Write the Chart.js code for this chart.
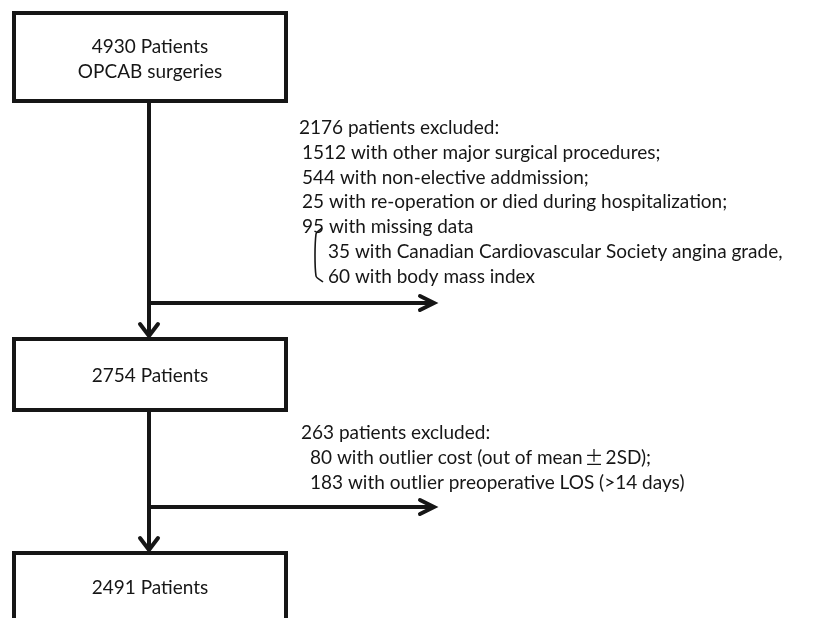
<!DOCTYPE html>
<html>
<head>
<meta charset="utf-8">
<script src="https://cdn.jsdelivr.net/npm/chart.js@4/dist/chart.umd.min.js"></script>
<style>
  html, body { margin: 0; padding: 0; background: #ffffff; }
  #wrap { width: 832px; height: 618px; }
</style>
</head>
<body>
<div id="wrap"><canvas id="c" width="832" height="618"></canvas></div>
<script>
// ---- Data (flowchart content) ----
const stageCounts = [4930, 2754, 2491];
const stageSubtitles = ["OPCAB surgeries", "", ""];
const excluded1Total = 2176;
const excluded1Reasons = [
  "1512 with other major surgical procedures;",
  "544 with non-elective addmission;",
  "25 with re-operation or died during hospitalization;",
  "95 with missing data"
];
const missingDetail = [
  "35 with Canadian Cardiovascular Society angina grade,",
  "60 with body mass index"
];
const excluded2Total = 263;
const excluded2Reasons = [
  ["80 with outlier cost (out of mean", "\u00B1", "2SD);"],
  ["183 with outlier preoperative LOS (>14 days)"]
];

// ---- Layout (positions in canvas units) ----
const boxLeft = 14, boxRight = 286, spineX = 149;
const boxTops = [13, 339, 553];
const boxBottoms = [101, 410, 640];
const branchY = [303, 507];
const branchEnd = 434;
const ink = '#161616';
const LW = 4;

function rect(l, t, r, b) {
  return [{x:l,y:t},{x:r,y:t},{x:r,y:b},{x:l,y:b},{x:l,y:t}];
}
function seg(a, b) { return [a, b]; }

const datasets = [];
function addLine(pts, w, cap) {
  datasets.push({
    type: 'scatter', data: pts, showLine: true, borderColor: ink,
    borderWidth: w, pointRadius: 0, tension: 0, fill: false,
    borderJoinStyle: 'miter', borderCapStyle: cap || 'square', clip: false
  });
}
// boxes
for (let i = 0; i < stageCounts.length; i++) {
  addLine(rect(boxLeft, boxTops[i], boxRight, boxBottoms[i]), LW);
}
// spines between boxes with arrowheads
for (let i = 0; i < 2; i++) {
  const tip = boxTops[i+1] - 3;
  addLine(seg({x:spineX,y:boxBottoms[i]}, {x:spineX,y:tip}), LW, 'butt');
  addLine([{x:spineX-9,y:tip-12},{x:spineX,y:tip},{x:spineX+9,y:tip-12}], LW, 'round');
}
// branches to the right
for (let i = 0; i < 2; i++) {
  addLine(seg({x:spineX,y:branchY[i]}, {x:branchEnd,y:branchY[i]}), LW, 'butt');
  addLine([{x:branchEnd-14,y:branchY[i]-7},{x:branchEnd,y:branchY[i]},{x:branchEnd-14,y:branchY[i]+7}], LW, 'round');
}
// bracket for missing data
datasets.push({
  type: 'scatter',
  data: [{x:322,y:228},{x:316,y:234},{x:316,y:276},{x:323,y:282}],
  showLine: true, borderColor: ink, borderWidth: 1.6, pointRadius: 0, tension: 0.25, clip: false
});

const FONT = '19px Lato, "Liberation Sans", sans-serif';
const CJK = '19px "Noto Sans CJK SC", sans-serif';

const textPlugin = {
  id: 'flowText',
  afterDatasetsDraw(chart) {
    const ctx = chart.ctx, xs = chart.scales.x, ys = chart.scales.y;
    const put = (str, x, y, align) => {
      ctx.textAlign = align || 'left';
      ctx.fillText(str, xs.getPixelForValue(x), ys.getPixelForValue(y));
    };
    ctx.save();
    ctx.fillStyle = ink;
    ctx.font = FONT;
    ctx.textBaseline = 'middle';
    const cx = (boxLeft + boxRight) / 2;
    // box labels
    stageCounts.forEach((n, i) => {
      const label = n + ' Patients';
      if (stageSubtitles[i]) {
        put(label, cx, 47, 'center');
        put(stageSubtitles[i], cx, 72, 'center');
      } else {
        put(label, cx, i === 2 ? 588 : 376, 'center');
      }
    });
    // first exclusion block
    put(excluded1Total + ' patients excluded:', 299, 128);
    excluded1Reasons.forEach((s, k) => put(s, 302, 153 + k * 24.6));
    missingDetail.forEach((s, k) => put(s, 328, 252 + k * 24.6));
    // second exclusion block
    put(excluded2Total + ' patients excluded:', 301, 433);
    excluded2Reasons.forEach((parts, k) => {
      let x = xs.getPixelForValue(310);
      const y = ys.getPixelForValue(458 + k * 24.6);
      ctx.textAlign = 'left';
      parts.forEach((p) => {
        if (p === '\u00B1') {
          ctx.font = CJK;
          x += 2;
          ctx.fillText(p, x, y);
          x += ctx.measureText(p).width + 2;
          ctx.font = FONT;
        } else {
          ctx.fillText(p, x, y);
          x += ctx.measureText(p).width;
        }
      });
    });
    ctx.restore();
  }
};

new Chart(document.getElementById('c'), {
  type: 'scatter',
  data: { datasets },
  options: {
    responsive: false,
    animation: false,
    events: [],
    layout: { padding: 0 },
    plugins: { legend: { display: false }, tooltip: { enabled: false } },
    scales: {
      x: { type: 'linear', min: 0, max: 832, display: false },
      y: { type: 'linear', min: 0, max: 618, reverse: true, display: false }
    }
  },
  plugins: [textPlugin]
});
</script>
</body>
</html>
